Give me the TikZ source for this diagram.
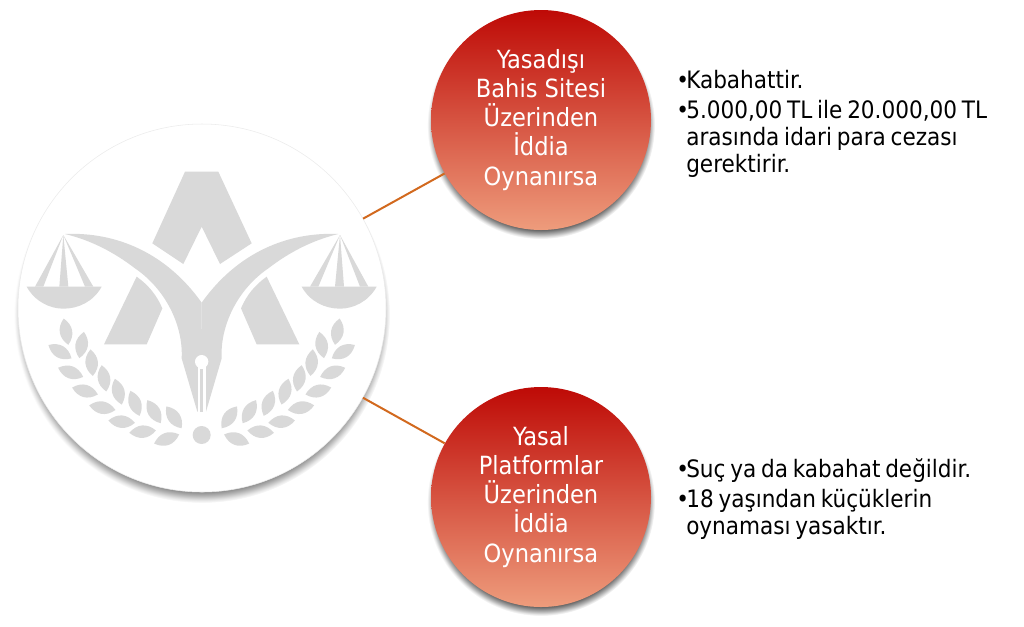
\documentclass[tikz,border=0pt]{standalone}
\usepackage{fontspec}
\setmainfont{DejaVu Sans Condensed}
\definecolor{redtop}{HTML}{BE0A06}
\definecolor{redbottom}{HTML}{EE9C7C}
\definecolor{linkorange}{HTML}{D2691E}
\definecolor{logogray}{HTML}{D9D9D9}
\pgfdeclareradialshading{softrim}{\pgfpoint{0bp}{0bp}}{color(0bp)=(black!60); color(23bp)=(black!60); color(24bp)=(black!30); color(24.6bp)=(black!10); color(25bp)=(white); color(50bp)=(white)}
\pgfdeclareverticalshading{redfade}{100bp}{color(0bp)=(redbottom); color(25bp)=(redbottom); color(75bp)=(redtop); color(100bp)=(redtop)}
\tikzstyle{bigdisc} = [circle, draw=black!8, fill=white, minimum size=276pt, inner sep=0pt]
\tikzstyle{reddisc} = [circle, shading=redfade, minimum size=165pt, inner sep=0pt,
    text=white, align=center, font=\fontsize{18.8}{21.8}\selectfont]
\tikzstyle{notes} = [anchor=north west, inner sep=0pt, text width=250pt, font=\fontsize{18}{20.3}\selectfont]
\tikzstyle{link} = [draw=linkorange, line width=1.5pt]
\setlength{\lineskiplimit}{-10pt}
\newcommand{\noteline}[1]{\par\spaceskip=3.6pt\hangindent=7.5pt\hangafter=1\noindent\hbox to 7.5pt{\textbullet\hss}#1\par\vspace{2pt}}
\begin{document}
\begin{tikzpicture}[x=0.75pt,y=-0.75pt]
    \useasboundingbox (0,0) rectangle (1024,626);
    % soft rims under the discs
    \shade[shading=softrim] (202,315) circle (188);
    \shade[shading=softrim] (541,125) circle (114);
    \shade[shading=softrim] (541,502) circle (114);

    \node [bigdisc] (seal) at (202,308) {};
    \node [reddisc] (illegal) at (541,120) {Yasadışı\\Bahis Sitesi\\Üzerinden\\İddia\\Oynanırsa};
    \node [reddisc] (legal) at (541,497) {Yasal\\Platformlar\\Üzerinden\\İddia\\Oynanırsa};
    \draw [link] (seal) -- (illegal);
    \draw [link] (seal) -- (legal);

    \node [notes] (illegalnotes) at (676,61) {\noteline{Kabahattir.}\noteline{5.000,00 TL ile 20.000,00 TL\newline arasında idari para cezası\newline gerektirir.}};
    \node [notes] (legalnotes) at (676,450) {\noteline{Suç ya da kabahat değildir.}\noteline{18 yaşından küçüklerin\newline oynaması yasaktır.}};

    % seal drawn in crop units, x mirrored about 605
    \begin{scope}[shift={(0,120)},x=0.25pt,y=-0.25pt,fill=logogray]
        \fill (555,155) -- (655,155) -- (755,370) -- (660,432) -- (605,320) -- (550,432) -- (457,370) -- cycle;
        \foreach \side in {1,-1} {
            \begin{scope}[shift={(605,0)},xscale=\side,shift={(-605,0)}]
                \fill (410,470) .. controls (445,495) and (470,525) .. (487,565) -- (440,673) -- (312,673) -- cycle;
                \fill (195,342) .. controls (350,335) and (500,400) .. (605,548) -- (606,875) -- (592,875) -- (545,715)
                    .. controls (550,620) and (500,510) .. (405,445) .. controls (340,395) and (270,360) .. (195,342) -- cycle;
                % scale pan and its strings
                \fill (80,500) -- (305,500) .. controls (280,545) and (235,566) .. (190,566) .. controls (150,566) and (105,545) .. (80,500) -- cycle;
                \fill (190,345) -- (105,500) -- (130,500) -- cycle;
                \fill (190,345) -- (178,500) -- (205,500) -- cycle;
                \fill (190,345) -- (255,500) -- (280,500) -- cycle;
                % laurel leaves
                \foreach \lx/\ly/\la in {198/635/80,245/675/100,275/728/85,312/775/80,355/815/75,405/850/70,462/875/60,522/892/55,180/695/30,212/757/20,255/813/15,307/863/10,365/905/5,428/935/-5,500/957/-20} {
                    \fill[shift={(\lx,\ly)},rotate=-\la] (-40,0) .. controls (-15,-25) and (15,-25) .. (40,0) .. controls (15,25) and (-15,25) .. (-40,0) -- cycle;
                }
            \end{scope}
        }
        % nib slit
        \fill[white] (605,725) circle (20);
        \fill[white] (593,735) rectangle (617,875);
        \fill (601,748) rectangle (609,875);
        \fill (605,945) circle (27);
    \end{scope}
\end{tikzpicture}
\end{document}
